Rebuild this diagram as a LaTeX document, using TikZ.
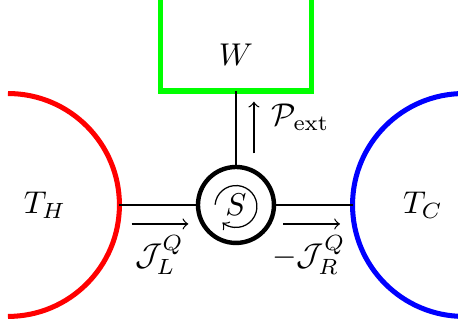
\documentclass[tikz,border=0pt]{standalone}
\usepackage{amsmath}
\begin{document}
\begin{tikzpicture}
  \clip (-2.634,-1.417) rectangle (2.478,2.288);
  \tikzset{bath/.style={line width=1.6pt},
           wire/.style={semithick}}
  \node [circle,draw,line width=1.4pt,minimum size=0.848cm,inner sep=0pt] (S) at (0,0) {$S$};
  \coordinate (H) at (-1.301,0);
  \coordinate (C) at (1.301,0);
  \coordinate (Wb) at (0,1.272);
  \draw [bath,red]  (-2.545,1.244) arc (90:-90:1.244);
  \draw [bath,blue] (2.545,1.244) arc (90:270:1.244);
  \draw [bath,green] (-0.84,3) -- (-0.84,1.272) -- (0.84,1.272) -- (0.84,3);
  \node (W)  at (0,1.674) {$W$};
  \node (TH) at (-2.132,0) {$T_H$};
  \node (TC) at (2.087,0) {$T_C$};
  \draw [wire] (H) -- (S);
  \draw [wire] (S) -- (C);
  \draw [wire] (S) -- (Wb);
  \draw [->] (0,-0.017) ++(175:0.234) arc (175:-130:0.234);
   \draw [->] (-1.164,-0.212) -- (-0.532,-0.212);
   \draw [->] (0.528,-0.212) -- (1.161,-0.212);
   \draw [->] (0.2,0.577) -- (0.2,1.153);
  \node (JL) at (-0.854,-0.558) {$\mathcal{J}_L^Q$};
  \node (JR) at (0.815,-0.558) {$-\mathcal{J}_R^Q$};
  \node (P)  at (0.72,0.98) {$\mathcal{P}_{\text{ext}}$};
\end{tikzpicture}
\end{document}
